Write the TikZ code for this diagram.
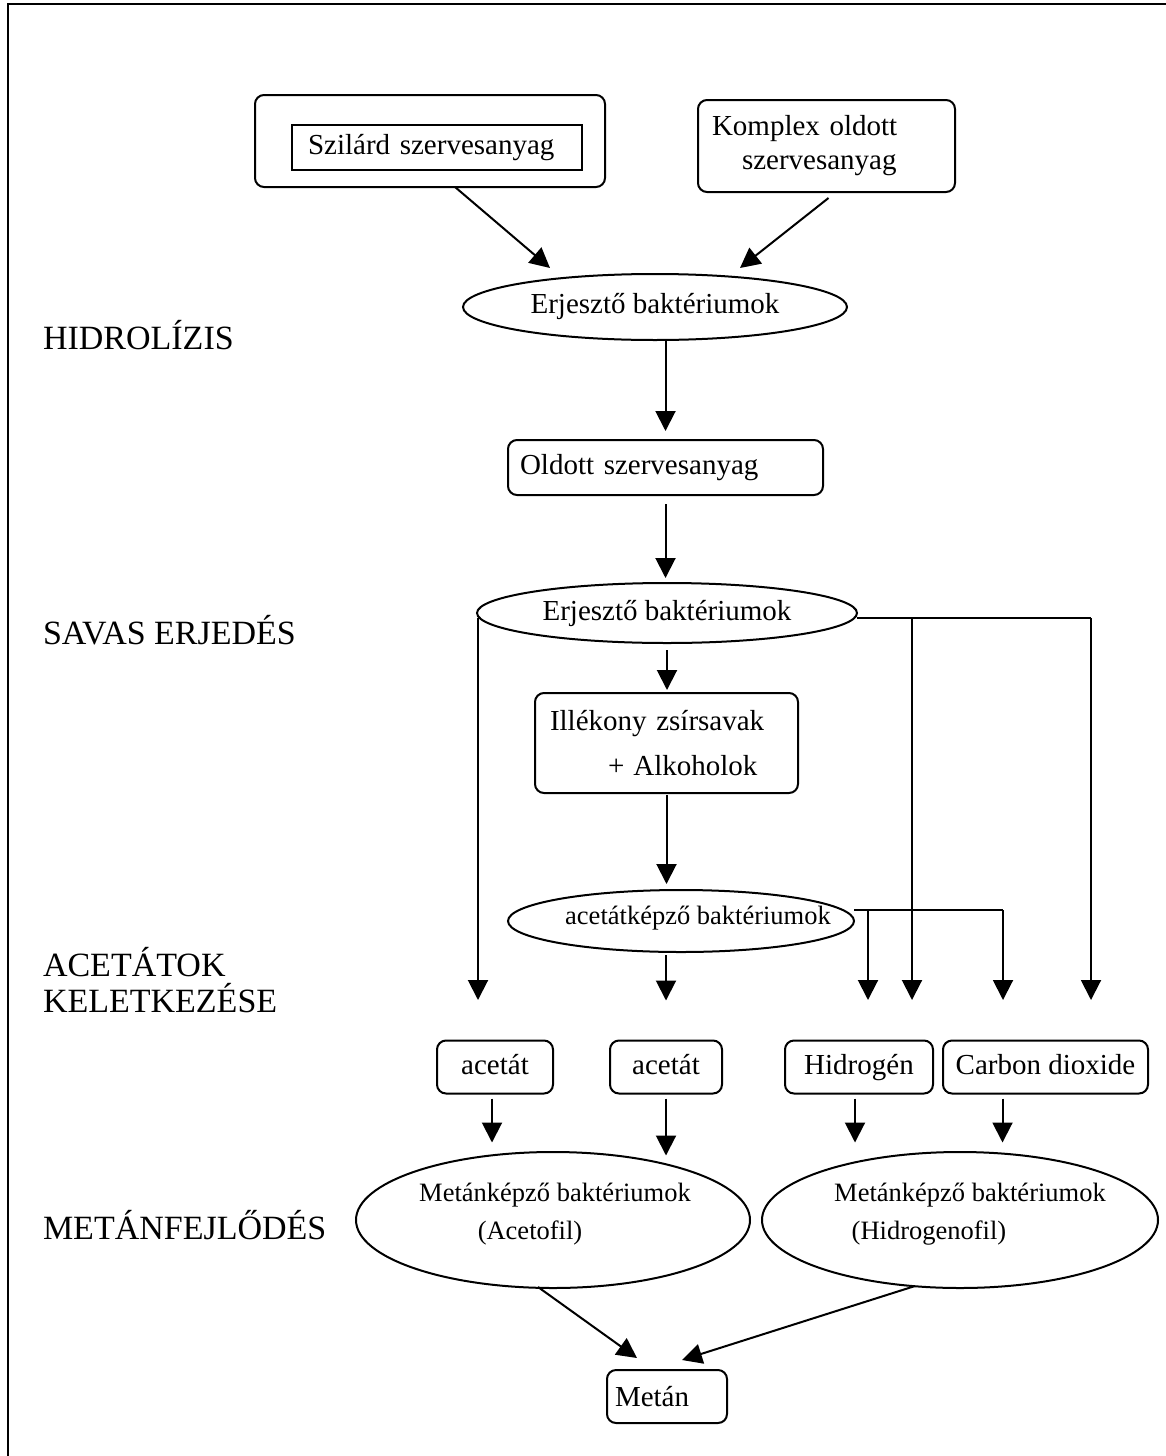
\documentclass[tikz,border=0pt]{standalone}
\usepackage{fontspec}
\setmainfont{Liberation Serif}
\usetikzlibrary{shapes.geometric,arrows.meta,calc}
\begin{document}
\begin{tikzpicture}[x=1pt,y=-1pt,
  every node/.style={inner sep=0pt, outer sep=0pt},
  frame/.style={line width=2.5pt},
  box/.style={draw, line width=2pt, rounded corners=9pt},
  sqbox/.style={draw, line width=2pt},
  ell/.style={draw, ellipse, line width=2pt},
  arr/.style={line width=2pt, -{Triangle[length=20pt,width=20pt]}},
  ln/.style={line width=2pt},
  txt/.style={font=\fontsize{29}{34}\selectfont},
  prod/.style={box, txt, text height=20pt, text depth=6pt, minimum height=53pt},
  smalltxt/.style={font=\fontsize{26.5}{38}\selectfont},
  lbl/.style={font=\fontsize{34}{36}\selectfont, anchor=west, align=left},
]
\useasboundingbox (0,0) rectangle (1166,1456);
\draw[frame] (8,1460) -- (8,4) -- (1170,4);

% labels
\node[lbl] (l1) at (43,335) {HIDROLÍZIS};
\node[lbl] (l2) at (43,630) {SAVAS ERJEDÉS};
\node[lbl] (l3) at (43,980) {ACETÁTOK\\KELETKEZÉSE};
\node[lbl] (l4) at (43,1225) {METÁNFEJLŐDÉS};

% top
\node[box, minimum width=350pt, minimum height=92pt] (szil) at (430,141) {};
\node[sqbox, txt, text width=258pt, inner xsep=16pt, minimum height=45pt, align=left] (szilin) at (437,147.5) {Szilárd szervesanyag};
\node[box, txt, text width=229pt, inner xsep=14pt, minimum height=92pt, align=left] (komplex) at (826.5,146) {Komplex oldott\\\hspace*{30pt}szervesanyag};

\node[ell, minimum width=384pt, minimum height=66pt, txt] (e1) at (655,307) {Erjesztő baktériumok};
\node[box, txt, text width=291pt, inner xsep=12pt, minimum height=55pt, align=left] (oldott) at (665.5,467.5) {Oldott szervesanyag};
\node[ell, minimum width=380pt, minimum height=60pt, txt] (e2) at (667,613) {Erjesztő baktériumok};
\node[box, txt, text width=233pt, inner xsep=15pt, minimum height=100pt, align=left] (ill) at (666.5,743) {Illékony zsírsavak\\[11pt]\hspace*{58pt}+\hspace{9pt}Alkoholok};
\node[ell, minimum width=346pt, minimum height=62pt] (e3) at (681,921) {};
\node[smalltxt] (e3t) at (698,918) {acetátképző baktériumok};

% product boxes
\node[prod, minimum width=116pt] (a1) at (495,1067) {acetát};
\node[prod, minimum width=112pt] (a2) at (666,1067) {acetát};
\node[prod, minimum width=148pt] (hid) at (859,1067) {Hidrogén};
\node[prod, minimum width=205pt] (co2) at (1045.5,1067) {Carbon dioxide};

% methanogen ellipses
\node[ell, minimum width=394pt, minimum height=136pt] (m1) at (553,1220) {};
\node[smalltxt, align=center] (m1t) at (555,1214) {Metánképző baktériumok\\(Acetofil)\hspace*{50pt}};
\node[ell, minimum width=396pt, minimum height=136pt] (m2) at (960,1220) {};
\node[smalltxt, align=center] (m2t) at (970,1214) {Metánképző baktériumok\\(Hidrogenofil)\hspace*{82pt}};

\node[box, txt, text width=104pt, inner xsep=8pt, minimum height=53pt, align=left] (metan) at (667,1396.5) {Metán};

% coordinates
\coordinate (e1in1) at (550,268);
\coordinate (e1in2) at (740,268);
\coordinate (j1) at (912,618);
\coordinate (j2) at (1091,618);
\coordinate (j3) at (868,910);
\coordinate (j4) at (1003,910);
\coordinate (t0) at (478,1000);
\coordinate (t1) at (912,1000);
\coordinate (t2) at (1091,1000);
\coordinate (t3) at (868,1000);
\coordinate (t4) at (1003,1000);
\coordinate (mt1) at (637,1358);
\coordinate (mt2) at (682,1360);

% connectors
\draw[arr] ($(szil.south)+(25,0)$) -- (e1in1);
\draw[arr] ($(komplex.south)+(2,6)$) -- (e1in2);
\draw[arr, shorten >=9pt] (e1.south -| oldott.north) -- (oldott.north);
\draw[arr, shorten <=9pt, shorten >=5pt] (oldott.south) -- (e2.north -| oldott.south);
\draw[arr, shorten <=7pt, shorten >=3pt] (e2.south) -- (ill.north -| e2.south);
\draw[arr, shorten <=2pt, shorten >=6pt] (ill.south) -- (e3.north -| ill.south);

\draw[arr] ($(e2.west)+(1,5)$) -- (t0);
\draw[ln] ($(e2.east)+(0,5)$) -- (j2);
\draw[arr] (j1) -- (t1);
\draw[arr] (j2) -- (t2);
\draw[ln] ($(e3.east)+(0,-11)$) -- (j4);
\draw[arr] (j3) -- (t3);
\draw[arr] (j4) -- (t4);
\draw[arr, shorten <=3pt] (e3.south -| a2.north) -- ($(a2.north)+(0,-40)$);

\draw[arr] ($(a1.south)+(-3,5)$) -- ($(a1.south)+(-3,49)$);
\draw[arr] ($(a2.south)+(0,5)$) -- ($(a2.south)+(0,62)$);
\draw[arr] ($(hid.south)+(-4,5)$) -- ($(hid.south)+(-4,49)$);
\draw[arr] ($(co2.south)+(-43,5)$) -- ($(co2.south)+(-43,49)$);

\draw[arr] ($(m1.south)+(-15,-1)$) -- (mt1);
\draw[arr] ($(m2.south)+(-45,-2)$) -- (mt2);
\end{tikzpicture}
\end{document}
